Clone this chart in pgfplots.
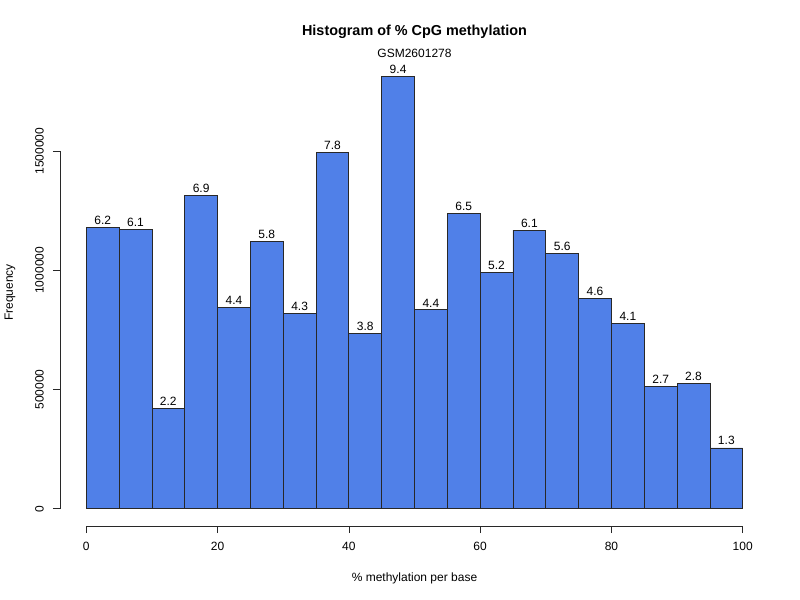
\documentclass[border=0pt]{standalone}
\usepackage{pgfplots}
\pgfplotsset{compat=1.18}
\usepackage{fontspec}
\setmainfont{Liberation Sans}
\definecolor{barblue}{RGB}{80,128,232}
\definecolor{axgray}{RGB}{40,40,40}
\begin{document}
\begin{tikzpicture}[x=0.75pt,y=0.75pt]
\useasboundingbox (-60,-74) rectangle (740,526);
\begin{axis}[
  at={(0,0)}, anchor=south west,
  scale only axis, width=531.75pt, height=350.25pt,
  xmin=-4, xmax=104, ymin=-72560, ymax=1886560,
  axis line style={draw=none},
  axis x line=bottom, axis y line=left,
  xtick={0,20,40,60,80,100},
  ytick={0,500000,1000000,1500000},
  yticklabels={0,500000,1000000,1500000},
  scaled y ticks=false,
  tick align=outside,
  major tick length=5.25pt,
  tick style={axgray, line width=0.5pt},
  /pgf/number format/assume math mode=true,
  ticklabel style={font=\fontsize{9}{10}\selectfont},
  yticklabel style={rotate=90, anchor=south, yshift=3.5pt},
  xticklabel style={anchor=north, yshift=-3pt},
  clip=false,
  ybar, bar width=5, bar shift=0pt,
  nodes near coords={\pgfplotspointmeta},
  point meta=explicit symbolic,
  every node near coord/.append style={font=\fontsize{9}{10}\selectfont, anchor=south, yshift=-1.5pt, text=black},
]
\addplot[fill=barblue, draw=axgray, line width=0.6pt] table[meta=lab] {
x y lab
2.5 1181000 6.2
7.5 1172000 6.1
12.5 422000 2.2
17.5 1315000 6.9
22.5 845000 4.4
27.5 1122000 5.8
32.5 820000 4.3
37.5 1496000 7.8
42.5 737000 3.8
47.5 1813000 9.4
52.5 834000 4.4
57.5 1240000 6.5
62.5 991000 5.2
67.5 1169000 6.1
72.5 1072000 5.6
77.5 883000 4.6
82.5 778000 4.1
87.5 514000 2.7
92.5 527000 2.8
97.5 255000 1.3
};
\draw[axgray, line width=0.6pt] (axis cs:0,-72560) -- (axis cs:100,-72560);
\draw[axgray, line width=0.6pt] (axis cs:-4,0) -- (axis cs:-4,1500000);
\end{axis}
\node[font=\fontsize{10.8}{12}\selectfont\bfseries, anchor=base] at (354.5,490) {Histogram of \% CpG methylation};
\node[font=\fontsize{9}{10}\selectfont, anchor=base] at (354.5,468.5) {GSM2601278};
\node[font=\fontsize{9}{10}\selectfont] at (354.5,-52) {\% methylation per base};
\node[font=\fontsize{9}{10}\selectfont, rotate=90] at (-50,233.5) {Frequency};
\end{tikzpicture}
\end{document}
